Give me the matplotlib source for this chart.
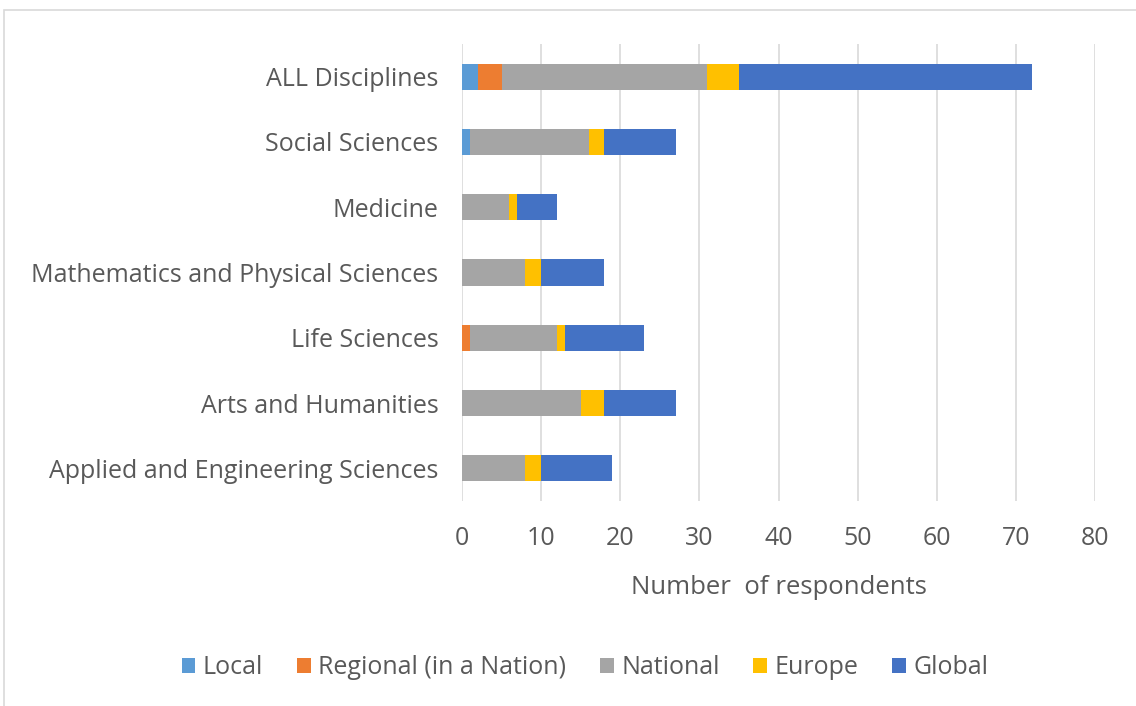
import numpy as np
import matplotlib
matplotlib.use("Agg")
import matplotlib.pyplot as plt
from matplotlib.patches import Rectangle

# categories from bottom to top
categories = ["Applied and Engineering Sciences", "Arts and Humanities", "Life Sciences",
              "Mathematics and Physical Sciences", "Medicine", "Social Sciences", "ALL Disciplines"]
series = ["Local", "Regional (in a Nation)", "National", "Europe", "Global"]
local = [0, 0, 0, 0, 0, 1, 2]
regional = [0, 0, 1, 0, 0, 0, 3]
national = [8, 15, 11, 8, 6, 15, 26]
europe = [2, 3, 1, 2, 1, 2, 4]
global_ = [9, 9, 10, 8, 5, 9, 37]
colors = ["#5b9bd5", "#ed7d31", "#a5a5a5", "#ffc000", "#4472c4"]

plt.rcParams['font.family'] = ['Open Sans', 'DejaVu Sans']
txt = "#595959"

fig = plt.figure(figsize=(11.36, 7.06), dpi=100)
ax = fig.add_axes([462/1136, 1 - 501/706, (1095 - 462)/1136, (501 - 44)/706])

# outer chart border
fig.patches.append(Rectangle((4/1136, -0.1), 1.2, 1 - 10/706 + 0.1, transform=fig.transFigure,
                             fill=False, edgecolor="#d9d9d9", linewidth=1.2))

y = np.arange(len(categories))
left = np.zeros(len(categories))
for name, vals, c in zip(series, [local, regional, national, europe, global_], colors):
    ax.barh(y, vals, left=left, height=0.4, color=c, label=name, zorder=3)
    left += np.array(vals)

ax.set_xlim(0, 80)
ax.set_ylim(-0.5, len(categories) - 0.5)
ax.set_xticks(range(0, 81, 10))
ax.set_yticks(y)
ax.set_yticklabels(categories)
ax.tick_params(axis='both', length=0, labelsize=18, colors=txt)
ax.tick_params(axis='x', pad=18)
ax.tick_params(axis='y', pad=17)
ax.xaxis.grid(True, color="#d9d9d9", linewidth=1.2, zorder=0)
for s in ax.spines.values():
    s.set_visible(False)
ax.set_xlabel("Number  of respondents", fontsize=18.5, color=txt, labelpad=17)

leg = fig.legend(loc="center", bbox_to_anchor=(585/1136, 1 - 668/706), ncol=5, frameon=False,
                 fontsize=18, handlelength=0.55, handleheight=0.55, handletextpad=0.3, columnspacing=1.35)
for t in leg.get_texts():
    t.set_color(txt)

fig.savefig("out.png", dpi=100)
